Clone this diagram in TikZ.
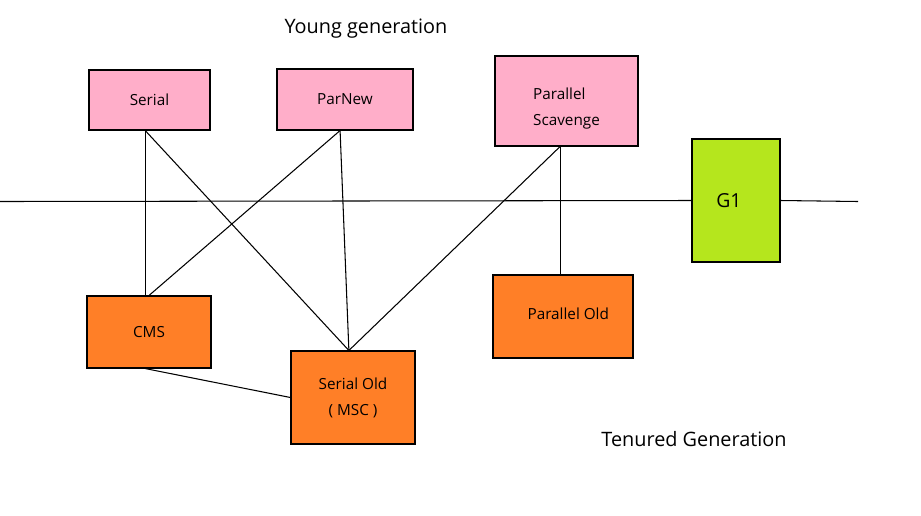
\documentclass[tikz,border=0pt]{standalone}
\usepackage{fontspec}
\setmainfont{Open Sans}
\usetikzlibrary{positioning}

\definecolor{younggc}{HTML}{FFAEC9}
\definecolor{oldgc}{HTML}{FF7F27}
\definecolor{gonegc}{HTML}{B5E61D}

\begin{document}
\begin{tikzpicture}[
    x=0.02cm, y=-0.02cm,
    young/.style={rectangle, draw, line width=0.6pt, fill=younggc, text centered, font=\fontsize{8.7}{14.7}\selectfont},
    old/.style={rectangle, draw, line width=0.6pt, fill=oldgc, text centered, font=\fontsize{8.7}{14.7}\selectfont},
    gone/.style={rectangle, draw, line width=0.6pt, fill=gonegc, font=\fontsize{11}{12}\selectfont},
    link/.style={line width=0.6pt},
    title/.style={font=\fontsize{11.3}{13}\selectfont}
    ]
    \useasboundingbox (0,0) rectangle (921,515);

    % Titel
    \node[title] (YoungTitle) at (366,29) {Young generation};
    \node[title] (OldTitle) at (694,439) {Tenured Generation};

    % Trennlinie
    \coordinate (LineL) at (0,201.5);
    \coordinate (LineR) at (858,201.5);

    % Junge Generation
    \node[young, minimum width=121*0.02cm, minimum height=60*0.02cm] (Serial) at (149.5,100) {Serial};
    \node[young, minimum width=136*0.02cm, minimum height=61*0.02cm] (ParNew) at (345,99.5) {ParNew};
    \node[young, minimum width=143*0.02cm, minimum height=90*0.02cm] (Scavenge) at (566.5,101)
        {\raisebox{-3.4pt}[\height][\depth]{\begin{tabular}{@{}l@{}}Parallel\\Scavenge\end{tabular}}};

    % Alte Generation
    \node[old, minimum width=124*0.02cm, minimum height=72*0.02cm] (CMS) at (149,332) {CMS};
    \node[old, minimum width=124*0.02cm, minimum height=93*0.02cm, align=center] (SerialOld) at (353,397.5) {Serial Old\\(~MSC~)};
    \node[old, minimum width=140*0.02cm, minimum height=83*0.02cm] (ParOld) at (563,316.5)
        {\raisebox{1.5pt}[\height][\depth]{\hspace*{6pt}Parallel Old}};

    % Verbindungen
    \draw[link] (Serial.-98) -- (Serial.-98 |- CMS.north);
    \draw[link] (Serial.-98) -- (SerialOld.95);
    \draw[link] (ParNew.-99) -- (CMS.north);
    \draw[link] (ParNew.-99) -- (SerialOld.95);
    \draw[link] (Scavenge.-98) -- (SerialOld.95);
    \draw[link] (Scavenge.-98) -- (Scavenge.-98 |- ParOld.north);
    \draw[link] (CMS.-96) -- (SerialOld.west);

    % G1 ueber der Linie
    \node[gone, minimum width=88*0.02cm, minimum height=123*0.02cm] (G1) at (736,200.5) {G1\hspace*{8pt}};
    \draw[link] (LineL) -- (G1.west);
    \draw[link] (G1.east) -- (LineR);

\end{tikzpicture}
\end{document}
